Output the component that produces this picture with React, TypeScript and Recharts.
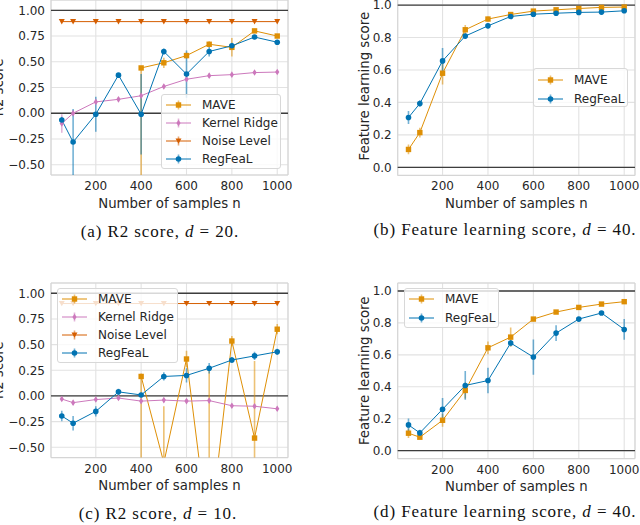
import React from 'react';
import { ComposedChart, Line, XAxis, YAxis, CartesianGrid, ReferenceLine, ReferenceArea, ErrorBar, Legend } from 'recharts';

// sample sizes shared by all four panels
const samples = [50, 100, 200, 300, 400, 500, 600, 700, 800, 900, 1000];
const xTicks = [200, 400, 600, 800, 1000];
const r2Ticks = [-0.5, -0.25, 0, 0.25, 0.5, 0.75, 1.0];
const flTicks = [0, 0.2, 0.4, 0.6, 0.8, 1.0];

type Err = number | [number, number] | null;

// (a) R2 score, d = 20
const maveR2d20 = [null, null, null, null, 0.44, 0.49, 0.56, 0.67, 0.64, 0.80, 0.75];
const maveR2d20Err: Err[] = [null, null, null, null, [1.4, 0.0], 0.05, 0.03, 0.03, 0.09, 0.02, 0.02];
const krrR2d20 = [-0.10, 0.0, 0.11, 0.135, 0.17, 0.26, 0.33, 0.365, 0.375, 0.395, 0.40];
const krrR2d20Err: Err[] = [0.09, 0.03, 0.02, 0.02, 0.02, 0.02, 0.02, 0.02, 0.015, 0.015, 0.015];
const noiseR2d20 = [0.89, 0.89, 0.89, 0.89, 0.89, 0.89, 0.89, 0.89, 0.89, 0.89, 0.89];
const regR2d20 = [-0.065, -0.28, -0.01, 0.37, -0.01, 0.60, 0.38, 0.60, 0.655, 0.74, 0.69];
const regR2d20Err: Err[] = [0.03, 0.32, 0.17, 0.02, 0.39, 0.03, 0.23, 0.05, 0.03, 0.02, 0.02];

// (b) feature learning score, d = 40
const maveFLb = [0.11, 0.214, 0.58, 0.848, 0.914, 0.942, 0.963, 0.971, 0.979, 0.986, 0.988];
const maveFLbErr: Err[] = [0.03, 0.03, 0.07, 0.03, 0.015, 0.01, 0.01, 0.008, 0.008, 0.008, 0.008];
const regFLb = [0.307, 0.393, 0.656, 0.809, 0.872, 0.93, 0.944, 0.95, 0.955, 0.957, 0.965];
const regFLbErr: Err[] = [0.04, 0.02, 0.08, 0.015, 0.015, 0.01, 0.01, 0.01, 0.01, 0.01, 0.01];

// (c) R2 score, d = 10
const maveR2d10 = [null, null, null, null, 0.19, -0.65, 0.36, -1.4, 0.535, -0.41, 0.65];
const maveR2d10Err: Err[] = [null, null, null, null, [1.5, 0.03], [1.5, 0.55], 0.08, [1.5, 1.65], 0.05, [1.5, 0.75], 0.05];
const krrR2d10 = [-0.03, -0.065, -0.035, -0.02, -0.05, -0.04, -0.05, -0.045, -0.095, -0.10, -0.125];
const krrR2d10Err: Err[] = [0.02, 0.02, 0.02, 0.02, 0.02, 0.02, 0.02, 0.02, 0.02, 0.02, 0.02];
const noiseR2d10 = [0.90, 0.90, 0.90, 0.90, 0.90, 0.90, 0.90, 0.90, 0.90, 0.90, 0.90];
const regR2d10 = [-0.195, -0.265, -0.15, 0.04, 0.01, 0.19, 0.20, 0.27, 0.35, 0.39, 0.43];
const regR2d10Err: Err[] = [0.05, 0.07, 0.05, 0.03, 0.02, 0.04, 0.07, 0.05, 0.03, 0.04, 0.03];

// (d) feature learning score, d = 40
const maveFLd = [0.109, 0.084, 0.19, 0.377, 0.644, 0.711, 0.824, 0.868, 0.897, 0.918, 0.933];
const maveFLdErr: Err[] = [0.03, 0.01, 0.04, 0.05, 0.04, 0.06, 0.01, 0.01, 0.01, 0.01, 0.01];
const regFLd = [0.161, 0.111, 0.259, 0.408, 0.439, 0.674, 0.586, 0.736, 0.824, 0.862, 0.759];
const regFLdErr: Err[] = [0.04, 0.02, 0.07, 0.09, 0.08, 0.02, 0.11, 0.05, 0.01, 0.01, 0.065];

const COLORS = {
  mave: '#de8f05',
  krr: '#cc78bc',
  noise: '#d55e00',
  reg: '#0173b2',
};
const TEXT = '#262626';

type MarkerKind = 'square' | 'thinDiamond' | 'triDown' | 'circle';

interface Series {
  key: string;
  name: string;
  color: string;
  marker: MarkerKind;
  values: (number | null)[];
  errs?: Err[];
}

function marker(kind: MarkerKind, cx: number, cy: number, color: string, key?: string) {
  switch (kind) {
    case 'square':
      return <rect key={key} x={cx - 2.7} y={cy - 2.7} width={5.4} height={5.4} fill={color} />;
    case 'thinDiamond':
      return <polygon key={key} points={`${cx},${cy - 3.3} ${cx + 2.1},${cy} ${cx},${cy + 3.3} ${cx - 2.1},${cy}`} fill={color} />;
    case 'triDown':
      return <polygon key={key} points={`${cx - 3},${cy - 2.6} ${cx + 3},${cy - 2.6} ${cx},${cy + 2.8}`} fill={color} />;
    default:
      return <circle key={key} cx={cx} cy={cy} r={2.8} fill={color} />;
  }
}

function buildRows(series: Series[]) {
  return samples.map((n, i) => {
    const row: any = { n };
    series.forEach(s => {
      const v = s.values[i];
      if (v != null) {
        row[s.key] = v;
        if (s.errs && s.errs[i] != null) row[s.key + 'Err'] = s.errs[i];
      }
    });
    return row;
  });
}

function LegendBox({ items, width, height, rowH }: { items: Series[]; width: number; height: number; rowH: number }) {
  return (
    <div style={{
      width, height, boxSizing: 'border-box', border: '1px solid #d8d8d8', borderRadius: 3,
      background: 'rgba(255,255,255,0.8)', paddingTop: 1, paddingLeft: 4,
    }}>
      {items.map(s => (
        <div key={s.key} style={{ display: 'flex', alignItems: 'center', height: rowH }}>
          <svg width={26} height={18} style={{ display: 'block' }}>
            <line x1={0} x2={25} y1={9} y2={9} stroke={s.color} strokeWidth={1} />
            <line x1={12.5} x2={12.5} y1={4.5} y2={13.5} stroke={s.color} strokeOpacity={0.55} strokeWidth={1.6} />
            {marker(s.marker, 12.5, 9, s.color)}
          </svg>
          <span style={{ marginLeft: 10, fontSize: 12, color: TEXT, lineHeight: '14px' }}>{s.name}</span>
        </div>
      ))}
    </div>
  );
}

interface PanelProps {
  id: string;
  left: number;
  top: number;
  height: number;
  yAxisWidth: number;
  right: number;
  domain: [number, number];
  ticks: number[];
  digits: number;
  yLabel: string;
  yLabelX: number;
  series: Series[];
  legend: { left: number; top: number; width: number; height: number; rowH: number };
}

const CHART_W = 320;
const TOP_PAD = 10;
const X_AXIS_H = 35;

function Panel({ id, left, top, height, yAxisWidth, right, domain, ticks, digits, yLabel, yLabelX, series, legend }: PanelProps) {
  const rows = buildRows(series);
  const fmt = (v: number) => (v < 0 ? '\u2212' + Math.abs(v).toFixed(digits) : v.toFixed(digits));
  const clipId = `errclip-${id}`;
  // error bars are not clipped by recharts, so clip them to the plot area
  return (
    <div id={`panel-${id}`} style={{ position: 'absolute', left, top }}>
      <svg width={0} height={0} style={{ position: 'absolute' }}>
        <defs>
          <clipPath id={clipId} clipPathUnits="userSpaceOnUse">
            <rect x={yAxisWidth} y={TOP_PAD} width={CHART_W - right - yAxisWidth} height={height - TOP_PAD - X_AXIS_H} />
          </clipPath>
        </defs>
      </svg>
      <style>{`#panel-${id} .recharts-errorBars, #panel-${id} .recharts-errorBar { clip-path: url(#${clipId}); }`}</style>
      <ComposedChart width={CHART_W} height={height} data={rows} margin={{ top: TOP_PAD, right, bottom: 0, left: 0 }}>
        <CartesianGrid stroke="#e2e2e2" strokeWidth={1.1} />
        <ReferenceArea x1={2.5} x2={1047.5} y1={domain[0]} y2={domain[1]} fill="none" stroke="#d4d4d4" strokeWidth={1} />
        <XAxis
          dataKey="n"
          type="number"
          domain={[2.5, 1047.5]}
          ticks={xTicks}
          allowDataOverflow
          tickLine={false}
          axisLine={false}
          tickSize={0}
          height={X_AXIS_H}
          tickMargin={6.5}
          tick={{ fontSize: 12, fill: TEXT }}
          label={{ value: 'Number of samples n', position: 'insideBottom', offset: 2.5, fontSize: 13.3, fill: TEXT }}
        />
        <YAxis
          type="number"
          domain={domain}
          ticks={ticks}
          allowDataOverflow
          tickLine={false}
          axisLine={false}
          tickSize={0}
          width={yAxisWidth}
          tickMargin={6}
          tickFormatter={fmt}
          tick={{ fontSize: 12, fill: TEXT }}
          label={{ value: yLabel, angle: -90, position: 'insideLeft', offset: yLabelX, fontSize: 13.3, fill: TEXT, style: { textAnchor: 'middle' } }}
        />
        <ReferenceLine y={1} stroke="#3d3d3d" strokeWidth={1.3} />
        <ReferenceLine y={0} stroke="#3d3d3d" strokeWidth={1.3} />
        {series.map(s => (
          <Line
            key={s.key}
            dataKey={s.key}
            name={s.name}
            type="linear"
            stroke={s.color}
            strokeWidth={1}
            isAnimationActive={false}
            activeDot={false}
            dot={(p: any) =>
              p.cx == null || p.cy == null || p.value == null
                ? <g key={`${s.key}-${p.index}`} />
                : marker(s.marker, p.cx, p.cy, s.color, `${s.key}-${p.index}`)
            }
          >
            {s.errs && (
              <ErrorBar dataKey={s.key + 'Err'} direction="y" width={0} stroke={s.color} strokeOpacity={0.55} strokeWidth={1.6} isAnimationActive={false} />
            )}
          </Line>
        ))}
        <Legend
          layout="horizontal"
          verticalAlign="middle"
          align="center"
          wrapperStyle={{ left: legend.left, top: legend.top, width: legend.width, height: legend.height }}
          content={() => <LegendBox items={series} width={legend.width} height={legend.height} rowH={legend.rowH} />}
        />
      </ComposedChart>
    </div>
  );
}

const seriesA: Series[] = [
  { key: 'mave', name: 'MAVE', color: COLORS.mave, marker: 'square', values: maveR2d20, errs: maveR2d20Err },
  { key: 'krr', name: 'Kernel Ridge', color: COLORS.krr, marker: 'thinDiamond', values: krrR2d20, errs: krrR2d20Err },
  { key: 'noise', name: 'Noise Level', color: COLORS.noise, marker: 'triDown', values: noiseR2d20 },
  { key: 'reg', name: 'RegFeaL', color: COLORS.reg, marker: 'circle', values: regR2d20, errs: regR2d20Err },
];
const seriesB: Series[] = [
  { key: 'mave', name: 'MAVE', color: COLORS.mave, marker: 'square', values: maveFLb, errs: maveFLbErr },
  { key: 'reg', name: 'RegFeaL', color: COLORS.reg, marker: 'circle', values: regFLb, errs: regFLbErr },
];
const seriesC: Series[] = [
  { key: 'mave', name: 'MAVE', color: COLORS.mave, marker: 'square', values: maveR2d10, errs: maveR2d10Err },
  { key: 'krr', name: 'Kernel Ridge', color: COLORS.krr, marker: 'thinDiamond', values: krrR2d10, errs: krrR2d10Err },
  { key: 'noise', name: 'Noise Level', color: COLORS.noise, marker: 'triDown', values: noiseR2d10 },
  { key: 'reg', name: 'RegFeaL', color: COLORS.reg, marker: 'circle', values: regR2d10, errs: regR2d10Err },
];
const seriesD: Series[] = [
  { key: 'mave', name: 'MAVE', color: COLORS.mave, marker: 'square', values: maveFLd, errs: maveFLdErr },
  { key: 'reg', name: 'RegFeaL', color: COLORS.reg, marker: 'circle', values: regFLd, errs: regFLdErr },
];

function Caption({ left, top, label, text, d }: { left: number; top: number; label: string; text: string; d: string }) {
  return (
    <div style={{
      position: 'absolute', left, top, width: 320, textAlign: 'center',
      fontFamily: '"Liberation Serif", serif', fontSize: 17, letterSpacing: 0.9, lineHeight: '20px', color: '#111',
    }}>
      ({label}) {text}, <i>d</i> = {d}.
    </div>
  );
}

export default function App() {
  return (
    <div style={{
      position: 'absolute', left: 0, top: 0, width: 640, height: 525, overflow: 'hidden',
      background: '#fff', fontFamily: '"DejaVu Sans", sans-serif',
    }}>
      <Panel id="a" left={-20} top={-10} height={220} yAxisWidth={71} right={12} domain={[-0.6, 1.1]} ticks={r2Ticks} digits={2}
        yLabel="R2 score" yLabelX={18.5} series={seriesA}
        legend={{ left: 181, top: 104, width: 120, height: 75, rowH: 18 }} />
      <Panel id="b" left={330} top={-13} height={223.4} yAxisWidth={67.7} right={15} domain={[-0.05, 1.05]} ticks={flTicks} digits={1}
        yLabel="Feature learning score" yLabelX={34} series={seriesB}
        legend={{ left: 203, top: 81, width: 95, height: 39, rowH: 19 }} />
      <Panel id="c" left={-20} top={273} height={219.6} yAxisWidth={71} right={12} domain={[-0.6, 1.1]} ticks={r2Ticks} digits={2}
        yLabel="R2 score" yLabelX={18.5} series={seriesC}
        legend={{ left: 77, top: 15, width: 121, height: 75, rowH: 18 }} />
      <Panel id="d" left={330} top={272.7} height={220.6} yAxisWidth={67.7} right={15} domain={[-0.05, 1.05]} ticks={flTicks} digits={1}
        yLabel="Feature learning score" yLabelX={34} series={seriesD}
        legend={{ left: 74, top: 15.3, width: 95, height: 40, rowH: 19 }} />
      <Caption left={0} top={222} label="a" text="R2 score" d="20" />
      <Caption left={345} top={220} label="b" text="Feature learning score" d="40" />
      <Caption left={-2} top={504} label="c" text="R2 score" d="10" />
      <Caption left={345} top={502} label="d" text="Feature learning score" d="40" />
    </div>
  );
}
